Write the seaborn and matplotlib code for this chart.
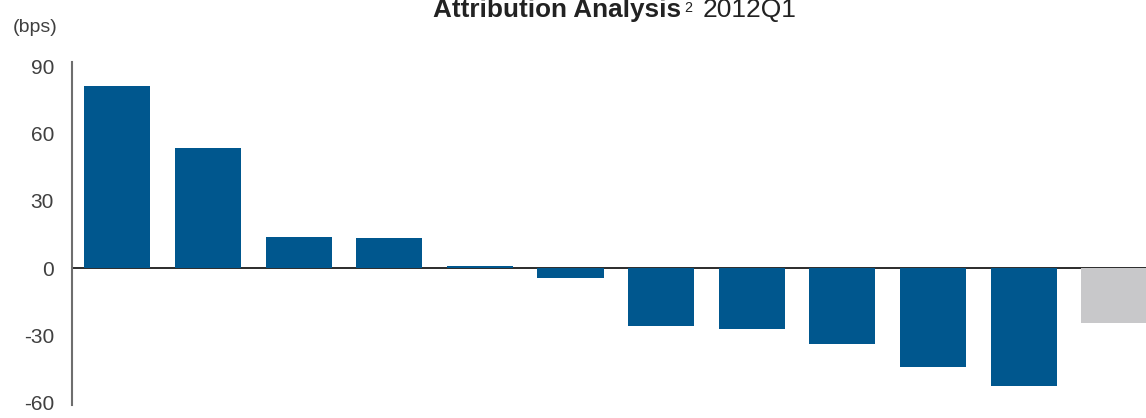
import matplotlib
matplotlib.use("Agg")
import matplotlib.pyplot as plt
import seaborn as sns
import pandas as pd

# Attribution by contributor, in basis points (last bar = total/other)
categories = ["C1", "C2", "C3", "C4", "C5", "C6", "C7", "C8", "C9", "C10", "C11", "C12"]
values = [81, 53.5, 14, 13.5, 0.8, -4.3, -26, -27, -34, -44, -52.4, -24.3]
groups = ["main"] * 11 + ["other"]
palette = {"main": "#00578E", "other": "#C8C8CA"}
yticks = [90, 60, 30, 0, -30, -60]

df = pd.DataFrame({"category": categories, "value": values, "group": groups})

sns.set_theme(style="white")
plt.rcParams["font.family"] = ["Liberation Sans", "DejaVu Sans"]

fig = plt.figure(figsize=(11.46, 4.18), dpi=100)
ax = fig.add_axes([72 / 1146, 13 / 418, 1 - 72 / 1146, 343 / 418])

sns.barplot(data=df, x="category", y="value", hue="group", palette=palette,
            order=categories, width=0.73, dodge=False, legend=False,
            saturation=1, linewidth=0, ax=ax)

ax.set_xlim(-0.5, 11.35)
ax.set_ylim(-61, 91.8)
ax.set_yticks(yticks)
ax.set_yticklabels([str(t) for t in yticks], fontsize=15, color="#404040")
ax.tick_params(axis="y", length=0, pad=13)
ax.set_xticks([])
ax.set_xlabel("")
ax.set_ylabel("")

for side in ["top", "right", "bottom"]:
    ax.spines[side].set_visible(False)
ax.spines["left"].set_color("#6e6e6e")
ax.spines["left"].set_linewidth(1.5)
ax.axhline(0, color="#1a1a1a", linewidth=1.3, zorder=0.5)

fig.text(13 / 1146, 1 - 27 / 418, "(bps)", fontsize=14, color="#404040",
         ha="left", va="center")

# Title: bold main part, superscript note marker, regular period.
# Each piece is sized to a target pixel width, then laid out left to right.
r = fig.canvas.get_renderer()
inv = fig.transFigure.inverted()


def fitted_text(x_px, base_px, s, width_px, **kw):
    t = fig.text(x_px / 1146, 1 - base_px / 418, s, fontsize=18,
                 color="#222222", ha="left", va="baseline", **kw)
    w = t.get_window_extent(r).width
    t.set_fontsize(18 * width_px / w)
    return t


t1 = fitted_text(433, 17, "Attribution Analysis", 247, fontweight="bold")
t2 = fitted_text(684, 12, "2", 8)
t3 = fitted_text(703, 17, "2012Q1", 94)

fig.savefig("out.png", dpi=100)
